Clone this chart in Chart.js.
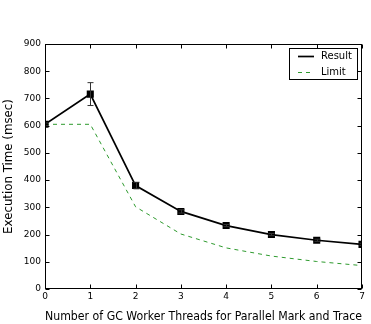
<!DOCTYPE html>
<html>
<head>
<meta charset="utf-8">
<script src="https://cdn.jsdelivr.net/npm/chart.js@4/dist/chart.umd.min.js"></script>
<style>
html,body{margin:0;padding:0;background:#fff;}
#wrap{width:371px;height:324px;position:relative;}
</style>
</head>
<body>
<div id="wrap"><canvas id="c" width="371" height="324"></canvas></div>
<script>
const threads = [0, 1, 2, 3, 4, 5, 6, 7];
const resultValues = [605, 716, 380, 285, 233, 200, 179, 164];
const resultErrors = [5, 42, 12, 6, 4, 4, 4, 4];
const limitValues = [605, 605, 302, 202, 151, 121, 101, 86];
const seriesNames = ['Result', 'Limit'];
const xTitle = 'Number of GC Worker Threads for Parallel Mark and Trace';
const yTitle = 'Execution Time (msec)';

const FONT = "'DejaVu Sans', sans-serif";

const framePlugin = {
  id: 'frame',
  afterDatasetsDraw(chart) {
    const {ctx, chartArea: a, scales} = chart;
    const xs = scales.x, ys = scales.y;
    // error bars (clipped to plot area)
    ctx.save();
    ctx.beginPath();
    ctx.rect(a.left, a.top, a.right - a.left, a.bottom - a.top);
    ctx.clip();
    ctx.strokeStyle = '#333';
    ctx.lineWidth = 1;
    resultValues.forEach((v, i) => {
      const e = resultErrors[i];
      const px = Math.round(xs.getPixelForValue(threads[i])) + 0.5;
      const top = ys.getPixelForValue(v + e);
      const bot = ys.getPixelForValue(v - e);
      ctx.beginPath();
      ctx.moveTo(px, top); ctx.lineTo(px, bot);
      ctx.moveTo(px - 3, top); ctx.lineTo(px + 3, top);
      ctx.moveTo(px - 3, bot); ctx.lineTo(px + 3, bot);
      ctx.stroke();
    });
    ctx.restore();
    ctx.save();
    // frame
    ctx.strokeStyle = '#000';
    ctx.lineWidth = 1;
    const l = Math.round(a.left) + 0.5, t = Math.round(a.top) + 0.5;
    const r = Math.round(a.right) - 0.5, b = Math.round(a.bottom) - 0.5;
    ctx.strokeRect(l, t, r - l, b - t);
    // inward ticks
    ctx.beginPath();
    xs.ticks.forEach(tk => {
      const px = Math.round(xs.getPixelForValue(tk.value)) + 0.5;
      ctx.moveTo(px, b); ctx.lineTo(px, b - 4);
      ctx.moveTo(px, t); ctx.lineTo(px, t + 4);
    });
    ys.ticks.forEach(tk => {
      const py = Math.round(ys.getPixelForValue(tk.value)) + 0.5;
      ctx.moveTo(l, py); ctx.lineTo(l + 4, py);
      ctx.moveTo(r, py); ctx.lineTo(r - 4, py);
    });
    ctx.stroke();
    // legend
    const lx = 289.5, ly = 48.5, lw = 68, lh = 31;
    ctx.fillStyle = '#fff';
    ctx.fillRect(lx, ly, lw, lh);
    ctx.strokeStyle = '#000';
    ctx.strokeRect(lx, ly, lw, lh);
    ctx.font = '10px ' + FONT;
    ctx.textBaseline = 'middle';
    ctx.textAlign = 'left';
    chart.data.datasets.forEach((ds, i) => {
      const yy = 56.5 + i * 16;
      ctx.beginPath();
      ctx.strokeStyle = ds.borderColor;
      ctx.lineWidth = ds.borderWidth;
      ctx.setLineDash(ds.borderDash || []);
      ctx.moveTo(298, yy); ctx.lineTo(314, yy);
      ctx.stroke();
      ctx.setLineDash([]);
      ctx.fillStyle = '#000';
      ctx.fillText(ds.label, 321, yy);
    });
    ctx.restore();
  }
};

new Chart(document.getElementById('c'), {
  type: 'line',
  data: {
    datasets: [
      {
        label: seriesNames[0],
        data: threads.map((x, i) => ({x: x, y: resultValues[i]})),
        borderColor: '#000',
        backgroundColor: '#000',
        borderWidth: 1.7,
        pointStyle: 'rect',
        pointRadius: 3.8,
        pointHoverRadius: 3.8,
        fill: false,
        tension: 0,
        clip: 0,
        order: 0
      },
      {
        label: seriesNames[1],
        data: threads.map((x, i) => ({x: x, y: limitValues[i]})),
        borderColor: '#2e9a2e',
        backgroundColor: '#2e9a2e',
        borderWidth: 1,
        borderDash: [4, 4],
        pointRadius: 0,
        fill: false,
        tension: 0,
        clip: 0,
        order: 1
      }
    ]
  },
  options: {
    responsive: false,
    animation: false,
    events: [],
    layout: {padding: {left: 0, right: 9, top: 44, bottom: 0}},
    plugins: {legend: {display: false}, tooltip: {enabled: false}},
    scales: {
      x: {
        type: 'linear', min: 0, max: 7,
        ticks: {stepSize: 1, color: '#000', font: {family: FONT, size: 9}, padding: 2, maxRotation: 0},
        grid: {display: false, drawTicks: false},
        border: {display: false},
        title: {display: true, text: xTitle, color: '#000', font: {family: FONT, size: 11.4}, padding: {top: 4, bottom: 0}},
        afterFit(s) { s.height = 35; }
      },
      y: {
        type: 'linear', min: 0, max: 900,
        ticks: {stepSize: 100, color: '#000', font: {family: FONT, size: 9}, padding: 4},
        grid: {display: false, drawTicks: false},
        border: {display: false},
        title: {display: true, text: yTitle, color: '#000', font: {family: FONT, size: 11.8}, padding: {top: 2, bottom: 6}},
        afterFit(s) { s.width = 45; }
      }
    }
  },
  plugins: [framePlugin]
});
</script>
</body>
</html>
